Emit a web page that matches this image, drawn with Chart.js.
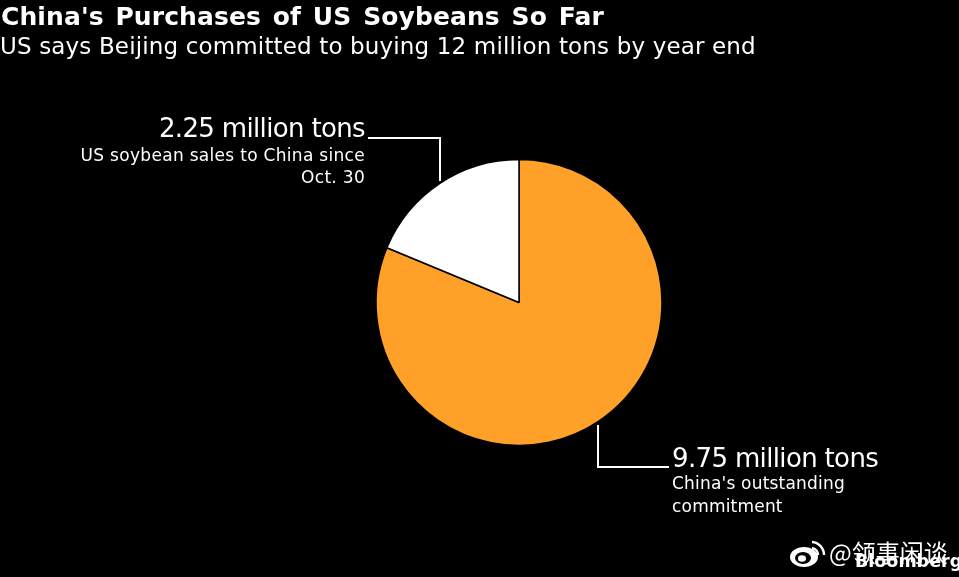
<!DOCTYPE html>
<html>
<head>
<meta charset="utf-8">
<script src="https://cdn.jsdelivr.net/npm/chart.js@4"></script>
<style>
html, body { margin: 0; padding: 0; background: #000; }
#wrap { position: relative; width: 959px; height: 577px; overflow: hidden; background: #000; color: #fff; font-family: "DejaVu Sans", sans-serif; }
#wrap canvas { position: absolute; left: 0; top: 0; }
.t { position: absolute; white-space: nowrap; }
.r { text-align: right; }
</style>
</head>
<body>
<div id="wrap">
  <canvas id="pie" width="959" height="577"></canvas>
  <div class="t" style="left:1px;top:2px;font-size:25px;font-weight:bold;letter-spacing:0.1px;word-spacing:3px">China's Purchases of US Soybeans So Far</div>
  <div class="t" style="left:0;top:33px;font-size:23px;letter-spacing:0.15px">US says Beijing committed to buying 12 million tons by year end</div>
  <div class="t r" style="right:594px;top:113px;font-size:26px;letter-spacing:-0.65px">2.25 million tons</div>
  <div class="t r" style="right:594px;top:144px;font-size:17px;line-height:22px;letter-spacing:0.3px">US soybean sales to China since<br>Oct. 30</div>
  <div class="t" style="left:672px;top:443px;font-size:26px;letter-spacing:-0.65px">9.75 million tons</div>
  <div class="t" style="left:672px;top:472px;font-size:17px;line-height:23px;letter-spacing:0.2px">China's outstanding<br>commitment</div>
  <svg class="t" style="left:789px;top:538px" width="38" height="30" viewBox="0 0 38 30">
    <ellipse cx="15" cy="19" rx="14" ry="10" fill="#fff"/>
    <ellipse cx="14" cy="20" rx="8" ry="6" fill="#000"/>
    <ellipse cx="13" cy="20.5" rx="4" ry="3.2" fill="#fff"/>
    <path d="M23 10 A7 7 0 0 1 29 17 M23 4 A13 13 0 0 1 35 17" fill="none" stroke="#fff" stroke-width="2.4"/>
  </svg>
  <div class="t" style="left:829px;top:534px;font-size:24px;font-family:'Noto Sans CJK SC'">@领事闲谈</div>
  <div class="t" style="left:855px;top:551px;font-size:17.5px;font-weight:bold">Bloomberg</div>
</div>
<script>
const categories = ["China's outstanding commitment", 'US soybean sales to China since Oct. 30'];
const values = [9.75, 2.25];
const colors = ['#ffa028', '#ffffff'];

// leader lines, drawn in canvas px after the pie
const leaderLines = {
  id: 'leaderLines',
  afterDraw(chart) {
    const c = chart.ctx;
    c.save();
    c.strokeStyle = '#fff';
    c.lineWidth = 2;
    c.beginPath();
    c.moveTo(368, 138); c.lineTo(440, 138); c.lineTo(440, 181);
    c.moveTo(598, 425); c.lineTo(598, 467); c.lineTo(669, 467);
    c.stroke();
    c.restore();
  }
};

new Chart(document.getElementById('pie').getContext('2d'), {
  type: 'pie',
  data: {
    labels: categories,
    datasets: [{ data: values, backgroundColor: colors, borderColor: '#000', borderWidth: 1.5 }]
  },
  options: {
    responsive: false,
    animation: false,
    radius: 143,
    layout: { padding: { left: 79, right: 0, top: 28, bottom: 0 } },
    plugins: { legend: { display: false }, tooltip: { enabled: false } }
  },
  plugins: [leaderLines]
});
</script>
</body>
</html>
